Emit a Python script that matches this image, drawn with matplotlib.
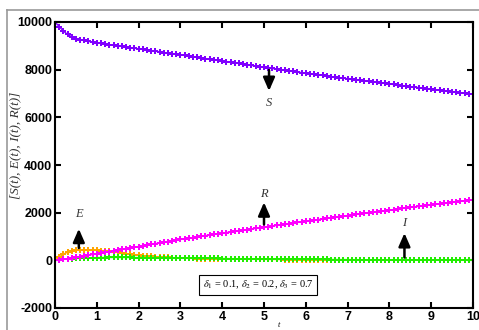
import numpy as np
import matplotlib.pyplot as plt
from matplotlib.lines import Line2D

plt.rcParams["axes.unicode_minus"] = False
plt.rcParams["mathtext.fontset"] = "stix"

t = np.round(np.arange(0, 101) * 0.1, 1)

S = [10000, 9810, 9620, 9480, 9380, 9300, 9260, 9225, 9190, 9155, 9125,
     9100, 9075, 9050, 9025, 9000, 8975, 8950, 8925, 8900, 8875,
     8850, 8825, 8800, 8775, 8750, 8720, 8695, 8670, 8645, 8620,
     8595, 8570, 8545, 8520, 8490, 8465, 8440, 8415, 8390, 8360,
     8335, 8310, 8285, 8260, 8230, 8205, 8180, 8155, 8130, 8100,
     8075, 8050, 8025, 8000, 7975, 7950, 7925, 7900, 7875, 7850,
     7827, 7804, 7781, 7758, 7735, 7712, 7689, 7666, 7643, 7620,
     7598, 7576, 7554, 7532, 7510, 7488, 7466, 7444, 7422, 7400,
     7378, 7356, 7334, 7312, 7290, 7268, 7246, 7224, 7202, 7180,
     7158, 7136, 7114, 7092, 7070, 7048, 7026, 7004, 6982, 6960]

E = [0, 140, 260, 340, 390, 420, 432, 437, 437, 433, 425,
     412, 396, 377, 355, 332, 308, 284, 261, 240, 220,
     201, 184, 168, 154, 141, 130, 120, 111, 103, 96,
     90, 85, 80, 76, 72, 68, 65, 62, 59, 56,
     54, 52, 50, 48, 46, 44, 43, 42, 40, 39,
     38, 37, 36, 35, 34, 33, 32, 31, 30, 29,
     28, 28, 27, 27, 26, 26, 25, 25, 24, 24,
     23, 23, 22, 22, 21, 21, 20, 20, 19, 19,
     18, 18, 17, 17, 16, 16, 15, 15, 14, 14,
     13, 13, 12, 12, 12, 11, 11, 11, 10, 10]

I = [0, 22, 40, 55, 68, 79, 88, 96, 103, 108, 113,
     116, 118, 120, 121, 121, 121, 120, 119, 117, 115,
     113, 111, 109, 107, 105, 103, 101, 99, 97, 95,
     93, 91, 89, 87, 85, 83, 81, 79, 77, 75,
     73, 71, 69, 67, 65, 63, 61, 59, 57, 55,
     54, 52, 51, 49, 48, 46, 45, 43, 42, 40,
     39, 38, 37, 36, 35, 34, 33, 32, 31, 30,
     29, 28, 27, 26, 25, 24, 23, 22, 21, 20,
     19, 18, 17, 17, 16, 15, 14, 14, 13, 12,
     11, 11, 10, 9, 8, 8, 7, 6, 6, 5]

R = [0, 20, 45, 70, 95, 120, 150, 180, 212, 246, 280,
     310, 340, 370, 400, 430, 460, 490, 520, 550, 580,
     610, 640, 670, 700, 730, 760, 790, 820, 850, 880,
     906, 932, 958, 984, 1010, 1036, 1062, 1088, 1114, 1140,
     1165, 1190, 1215, 1240, 1265, 1290, 1315, 1340, 1365, 1390,
     1415, 1440, 1465, 1490, 1515, 1540, 1565, 1590, 1615, 1640,
     1664, 1688, 1712, 1736, 1760, 1784, 1808, 1832, 1856, 1880,
     1903, 1926, 1949, 1972, 1995, 2018, 2041, 2064, 2087, 2110,
     2132, 2154, 2176, 2198, 2220, 2242, 2264, 2286, 2308, 2330,
     2352, 2374, 2396, 2418, 2440, 2462, 2484, 2506, 2528, 2550]

xticks = list(range(0, 11))
yticks = [-2000, 0, 2000, 4000, 6000, 8000, 10000]

# (label, x, tail y, head y, text y)
arrows = [("S", 5.12, 8100, 6990, 6600),
          ("E", 0.57, 400, 1440, 1950),
          ("R", 5.0, 1390, 2550, 2800),
          ("I", 8.36, 0, 1260, 1570)]

fig = plt.figure(figsize=(4.79, 3.30), dpi=100)
ax = fig.add_axes([55 / 479, 22 / 330, 418 / 479, 286 / 330])

style = dict(marker="P", markersize=4, linewidth=1, markeredgewidth=0)
ax.plot(t, S, color="#8000ff", **style)
ax.plot(t, E, color="#ffa500", **style)
ax.plot(t, I, color="#22ee00", **style)
ax.plot(t, R, color="#ff00ff", **style)

for name, x, y0, y1, ty in arrows:
    ax.annotate("", xy=(x, y1), xytext=(x, y0),
                arrowprops=dict(arrowstyle="-|>,head_length=0.8,head_width=0.35",
                                color="black", lw=1.8))
    ax.text(x, ty, name, ha="center", va="center", fontsize=9,
            family="Liberation Serif", style="italic", color="#333333")

ax.text(4.86, -1040, r"$\delta_1$ = 0.1, $\delta_2$ = 0.2, $\delta_3$ = 0.7",
        ha="center", va="center", fontsize=7.5, family="Liberation Serif",
        bbox=dict(boxstyle="square,pad=0.35", fc="white", ec="black", lw=0.8))

ax.set_xlim(0, 10)
ax.set_ylim(-2000, 10000)
ax.set_xticks(xticks)
ax.set_yticks(yticks)
ax.tick_params(direction="in", top=True, right=True, length=4, width=1.5,
               labelsize=9, pad=2)
for lab in ax.get_xticklabels() + ax.get_yticklabels():
    lab.set_fontweight("bold")
    lab.set_family("Liberation Sans")
for sp in ax.spines.values():
    sp.set_linewidth(1.5)

ax.set_ylabel("[S(t), E(t), I(t), R(t)]", fontsize=9.5, family="Liberation Serif",
              style="italic", color="#333333")
ax.yaxis.set_label_coords(-0.08, 0.57)
ax.set_xlabel("t", fontsize=6, family="Liberation Serif", style="italic")
ax.xaxis.set_label_coords(0.535, -0.045)

fig.add_artist(Line2D([7 / 479, 7 / 479], [0, 1 - 10 / 330], color="#999999", lw=1.2))
fig.add_artist(Line2D([7 / 479, 1], [1 - 10 / 330, 1 - 10 / 330], color="#999999", lw=1.2))

fig.savefig("out.png", dpi=100)
